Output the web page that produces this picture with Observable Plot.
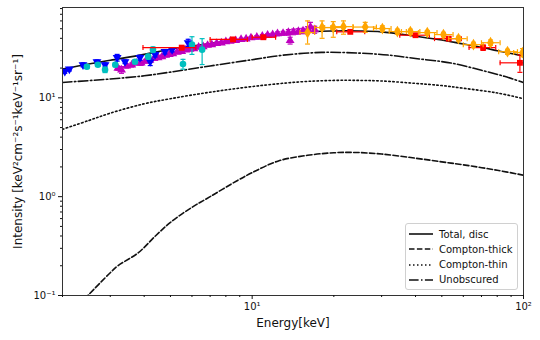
<!DOCTYPE html>
<html><head><meta charset="utf-8">
<script src="https://cdn.jsdelivr.net/npm/d3@7"></script>
<script src="https://cdn.jsdelivr.net/npm/@observablehq/plot@0.6"></script>
<style>
body{margin:0;background:#fff;font-family:"DejaVu Sans",sans-serif;}
#wrap{position:relative;width:540px;height:340px;}
#legend{position:absolute;left:405px;top:223px;width:113px;height:67px;border:1px solid #d0d0d0;border-radius:3px;background:rgba(255,255,255,0.85);font-size:10px;color:#111;box-sizing:border-box;}
.row{position:absolute;left:0;height:14px;display:flex;align-items:center;}
.row svg{margin-left:3px;margin-right:6px;}
</style>
</head><body><div id="wrap"><div id="legend"></div></div>
<script>
// ---- model curves ----
const totalEnergy = [2,2.5,3,4,5,7,10,15,20,25,30,40,50,60,70,80,100];
const totalIntensity = [19.5,22,24,27.5,31,35.5,40,46,47.5,47.5,46.5,42,38.5,35,32.5,30,26.5];
const thickEnergy = [2.3,2.48,3.0,3.2,3.8,4.4,5,6,7,8.8,10,12.5,16,20,24,30,40,50,60,80,100];
const thickIntensity = [0.081,0.1,0.17,0.2,0.27,0.4,0.55,0.78,1.0,1.45,1.75,2.3,2.62,2.78,2.8,2.7,2.45,2.25,2.1,1.85,1.65];
const thinEnergy = [2,2.5,3,4,5,7,10,15,20,25,30,40,50,60,80,100];
const thinIntensity = [4.8,5.9,7,8.7,9.8,11.4,13,14.5,15,15,14.8,14,13.3,12.5,11.2,9.8];
const unobEnergy = [2,3,4,5,7,10,13,18,25,32,40,54,70,85,100];
const unobIntensity = [14.3,15.5,16.7,18.2,21,24.3,27,28.8,28.3,27,25,22.5,19,16.5,14.3];

// ---- data points ----
const blueEnergy = [2.04,2.12,2.38,2.68,2.87,3.18,3.40,3.86,4.21,4.39,4.77,5.07,5.81];
const blueIntensity = [18.5,19.5,21.6,23.2,21.6,25.5,23.2,25.5,23.2,27.4,29.3,30.7,36.1];
const blueErr = [0.8,0.8,1,1,1,2,1,1.5,2,1.5,1.5,1.5,3];

const cyanEnergy = [2.46,2.70,2.87,3.13,3.70,4.14,4.31,5.56,6.0,6.54];
const cyanIntensity = [20.6,21.6,19.2,21.6,23.2,26.1,30.7,22,34.5,30.7];
const cyanErr = [0.8,0.8,1.2,1,1,1.5,2,2.5,7,9];

const magEnergy = [3.2,3.3,3.45,3.6,3.75,3.9,4.05,4.2,4.35,4.5,4.65,4.8,4.95,5.1,5.3,5.5,5.7,5.9,6.1,6.35,6.6,6.85,7.1,7.4,7.7,8.0,8.3,8.7,9.1,9.5,9.9,10.4,10.9,11.4,11.9,12.4,13.0,13.6,13.8,14.2,14.8,15.4,16.0,16.4,17.0];
const magIntensity = [20,19.2,21,21.5,22.5,22.5,23.5,24,25,25.5,26,27,27.5,28,29,29.5,30.5,31,31.5,32.5,33,34,34.5,35.5,36,37,37.5,38,39,39.5,40.5,41,42,43,43.5,44.5,45,46,38,46.5,47,47.5,48.5,52,49];
const magErr = [1,1.5,1,1,1,1.2,1,1,1,1,1,1,1,1,1,1,1,1,1,1,1,1,1,1,1,1,1,1,1,1,1,1.5,1.5,1.5,1.5,2,2,3,3,3,3,3,4,6,4];

const redEnergy = [5.5,8.5,11,23,40,53,71,97];
const redIntensity = [32.2,39,41,46.5,43,39.7,32.2,22.6];
const redELo = [3.96,7.0,10,20.5,35,47,63,82];
const redEHi = [6.2,9.6,12.2,26,45,59,79,100];
const redErr = [1.5,1.5,1.5,1.5,1.5,1.5,2,4.5];

const orangeEnergy = [16,18.1,19.9,21.7,26.1,30.2,34.3,38.3,44.2,50.7,57.6,65.4,75.6,87.3,99.2];
const orangeIntensity = [45.7,51.4,51.4,52.5,52,50.2,46.8,46.8,45.7,43.6,39.7,34.5,36.1,29.3,28.7];
const orangeELo = [15,17,18.5,20,23.6,28,32,35.5,41,47,53,60,70,81,92];
const orangeEHi = [17,19.5,21.5,23.5,28.7,32.5,37,41.5,48,55,62,71,82,95,100];
const orangeILo = [35,40,41,44,46,47,44,44,43.5,41.5,37.5,32.5,34,27.5,26];
const orangeIHi = [60,60,59,60,58,53.5,49.5,49.5,48,46,42,36.5,38.5,31,31.5];

// ---- axes ----
const xTicks = [10,100];
const xTickLabels = ["10¹","10²"];
const xMinor = [2,3,4,5,6,7,8,9,20,30,40,50,60,70,80,90];
const yTicks = [0.1,1,10];
const yTickLabels = ["10⁻¹","10⁰","10¹"];
const yMinor = [0.2,0.3,0.4,0.5,0.6,0.7,0.8,0.9,2,3,4,5,6,7,8,9,20,30,40,50,60,70,80];

const legendLabels = ["Total, disc","Compton-thick","Compton-thin","Unobscured"];
const legendDash = ["none","5.5,2.4","1.5,2.5","9.6,2.4,1.5,2.4"];

const zipCurve = (e, v) => e.map((x,i)=>({e:x, v:v[i]}));
const total = zipCurve(totalEnergy,totalIntensity);
const thick = zipCurve(thickEnergy,thickIntensity);
const thin = zipCurve(thinEnergy,thinIntensity);
const unob = zipCurve(unobEnergy,unobIntensity);
const sym = (e,v,err)=>e.map((x,i)=>({e:x,v:v[i],lo:v[i]-err[i],hi:v[i]+err[i]}));
const blue = sym(blueEnergy,blueIntensity,blueErr);
const cyan = sym(cyanEnergy,cyanIntensity,cyanErr);
const mag = sym(magEnergy,magIntensity,magErr);
const red = redEnergy.map((x,i)=>({e:x,v:redIntensity[i],lo:redIntensity[i]-redErr[i],hi:redIntensity[i]+redErr[i],elo:redELo[i],ehi:redEHi[i]}));
const orange = orangeEnergy.map((x,i)=>({e:x,v:orangeIntensity[i],lo:orangeILo[i],hi:orangeIHi[i],elo:orangeELo[i],ehi:orangeEHi[i]}));

const capH = {draw(ctx,size){const r=Math.sqrt(size/Math.PI);ctx.moveTo(-r,0);ctx.lineTo(r,0);}};
const capV = {draw(ctx,size){const r=Math.sqrt(size/Math.PI);ctx.moveTo(0,-r);ctx.lineTo(0,r);}};

function vbars(data,color){
  return [
    Plot.ruleX(data,{x:"e",y1:"lo",y2:"hi",stroke:color,strokeWidth:1.2,clip:true}),
    Plot.dot(data,{x:"e",y:"lo",symbol:capH,r:2.5,stroke:color,fill:"none",strokeWidth:1.2,clip:true}),
    Plot.dot(data,{x:"e",y:"hi",symbol:capH,r:2.5,stroke:color,fill:"none",strokeWidth:1.2,clip:true})
  ];
}
function hbars(data,color){
  return [
    Plot.ruleY(data,{y:"v",x1:"elo",x2:"ehi",stroke:color,strokeWidth:1.2,clip:true}),
    Plot.dot(data,{x:"elo",y:"v",symbol:capV,r:2.5,stroke:color,fill:"none",strokeWidth:1.2,clip:true}),
    Plot.dot(data,{x:"ehi",y:"v",symbol:capV,r:2.5,stroke:color,fill:"none",strokeWidth:1.2,clip:true})
  ];
}

const lineStyle = {x:"e",y:"v",stroke:"#111",strokeWidth:1.6,curve:"catmull-rom",clip:true};

const chart = Plot.plot({
  width:540, height:340,
  marginLeft:62, marginRight:17, marginTop:7, marginBottom:45,
  style:{fontFamily:"DejaVu Sans, sans-serif",fontSize:"10px",color:"#111",background:"#fff"},
  x:{type:"log",domain:[2,100]},
  y:{type:"log",domain:[0.1,82]},
  marks:[
    Plot.line(total,{...lineStyle}),
    Plot.line(thick,{...lineStyle,strokeDasharray:legendDash[1]}),
    Plot.line(thin,{...lineStyle,strokeDasharray:legendDash[2]}),
    Plot.line(unob,{...lineStyle,strokeDasharray:legendDash[3]}),
    ...vbars(mag,"#bf00bf"),
    Plot.dot(mag,{x:"e",y:"v",symbol:"triangle",r:3.3,fill:"#bf00bf",clip:true}),
    ...vbars(blue,"#0000ff"),
    Plot.dot(blue,{x:"e",y:"v",symbol:"triangle",rotate:180,r:3.3,fill:"#0000ff",clip:true}),
    ...vbars(cyan,"#00bfbf"),
    Plot.dot(cyan,{x:"e",y:"v",symbol:"circle",r:3.3,fill:"#00bfbf",clip:true}),
    ...hbars(red,"#ff0000"),
    ...vbars(red,"#ff0000"),
    Plot.dot(red,{x:"e",y:"v",symbol:"square",r:3.3,fill:"#ff0000",clip:true}),
    ...hbars(orange,"#ffa500"),
    ...vbars(orange,"#ffa500"),
    Plot.dot(orange,{x:"e",y:"v",symbol:"diamond",r:3.6,fill:"#ffa500",clip:true}),
    Plot.frame({stroke:"#333",strokeWidth:1}),
    Plot.axisX({ticks:xTicks,tickSize:4,tickFormat:(d)=>xTickLabels[xTicks.indexOf(d)],label:null,tickPadding:3}),
    Plot.axisX({ticks:xMinor,tickSize:2,tickFormat:()=>"",label:null}),
    Plot.axisY({ticks:yTicks,tickSize:4,tickFormat:(d)=>yTickLabels[yTicks.indexOf(d)],label:null,tickPadding:3}),
    Plot.axisY({ticks:yMinor,tickSize:2,tickFormat:()=>"",label:null}),
    Plot.text(["Energy[keV]"],{frameAnchor:"bottom",dy:31,fontSize:12,fill:"#111"}),
    Plot.text(["Intensity [keV²cm⁻²s⁻¹keV⁻¹sr⁻¹]"],{frameAnchor:"left",textAnchor:"middle",rotate:-90,dx:-44,fontSize:12,fill:"#111"})
  ]
});
document.getElementById("wrap").prepend(chart);

const leg = document.getElementById("legend");
legendLabels.forEach((lab,i)=>{
  const row = document.createElement("div");
  row.className="row";
  row.style.top = (3 + i*15.3) + "px";
  row.innerHTML = `<svg width="24" height="6"><line x1="0" y1="3" x2="24" y2="3" stroke="#111" stroke-width="1.6" ${legendDash[i]==="none"?"":`stroke-dasharray="${legendDash[i]}"`}/></svg><span>${lab}</span>`;
  leg.appendChild(row);
});
</script>
</body></html>
